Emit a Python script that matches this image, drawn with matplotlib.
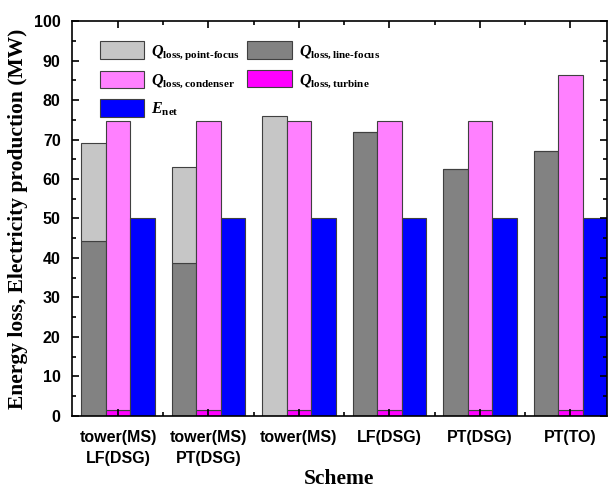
import numpy as np
import matplotlib
matplotlib.use('Agg')
import matplotlib.pyplot as plt
from matplotlib.ticker import MultipleLocator, FixedLocator

plt.rcParams['mathtext.fontset'] = 'custom'
plt.rcParams['mathtext.rm'] = 'Liberation Serif:bold'
plt.rcParams['mathtext.it'] = 'Liberation Serif:italic:bold'
plt.rcParams['mathtext.bf'] = 'Liberation Serif:bold'

# Data (MW)
schemes = ['tower(MS)\nLF(DSG)', 'tower(MS)\nPT(DSG)', 'tower(MS)',
           'LF(DSG)', 'PT(DSG)', 'PT(TO)']
q_line_focus = [44.4, 38.6, 0.0, 72.0, 62.5, 67.1]
q_point_focus = [24.6, 24.5, 75.9, 0.0, 0.0, 0.0]
q_turbine = [1.5, 1.5, 1.5, 1.5, 1.5, 1.5]
q_condenser = [73.3, 73.3, 73.3, 73.3, 73.3, 84.8]
e_net = [50.0, 50.0, 50.0, 50.0, 50.0, 50.0]

C_POINT = '#c6c6c6'
C_LINE = '#828282'
C_COND = '#ff80ff'
C_TURB = '#ff00ff'
C_NET = '#0000ff'
EDGE = '#404040'

fig = plt.figure(figsize=(6.14, 4.91), dpi=100)
ax = fig.add_axes([0.117, 0.153, 0.8716, 0.804])

x = np.arange(1, len(schemes) + 1)
w = 0.27
kw = dict(width=w, edgecolor=EDGE, linewidth=0.8)

b_line = ax.bar(x - w, q_line_focus, color=C_LINE, **kw)
b_point = ax.bar(x - w, q_point_focus, bottom=q_line_focus, color=C_POINT, **kw)
b_turb = ax.bar(x, q_turbine, color=C_TURB, **kw)
b_cond = ax.bar(x, q_condenser, bottom=q_turbine, color=C_COND, **kw)
b_net = ax.bar(x + w, e_net, color=C_NET, **kw)

ax.set_xlim(0.49, 6.405)
ax.set_ylim(0, 100)

ax.yaxis.set_major_locator(MultipleLocator(10))
ax.yaxis.set_minor_locator(MultipleLocator(5))
ax.xaxis.set_major_locator(FixedLocator(x))
ax.xaxis.set_minor_locator(FixedLocator(x[:-1] + 0.5))
ax.set_xticklabels(schemes, linespacing=1.5)

ax.tick_params(which='both', direction='in', top=True, right=True, width=1.2)
ax.tick_params(which='major', length=5)
ax.tick_params(which='minor', length=3)
ax.tick_params(axis='x', which='major', pad=10)
ax.tick_params(axis='y', which='major', pad=8)
for lab in ax.get_xticklabels() + ax.get_yticklabels():
    lab.set_family('Liberation Sans')
    lab.set_fontweight('bold')
    lab.set_fontsize(11.5)

for sp in ax.spines.values():
    sp.set_linewidth(1.2)

ax.set_ylabel('Energy loss, Electricity production (MW)', family='Liberation Serif',
              fontweight='bold', fontsize=15.5, labelpad=4)
ax.set_xlabel('Scheme', family='Liberation Serif', fontweight='bold', fontsize=15.5,
              labelpad=2)

handles = [b_point, b_cond, b_net, b_line, b_turb]
labels = [r'$Q_{\mathrm{loss,point\text{-}focus}}$',
          r'$Q_{\mathrm{loss,condenser}}$',
          r'$E_{\mathrm{net}}$',
          r'$Q_{\mathrm{loss,line\text{-}focus}}$',
          r'$Q_{\mathrm{loss,turbine}}$']
ax.legend(handles, labels, ncol=2, loc='upper left', bbox_to_anchor=(0.025, 0.985),
          frameon=False, prop={'family': 'Liberation Serif', 'size': 11.5},
          handlelength=2.8, handleheight=1.3, labelspacing=0.55,
          columnspacing=0.5, handletextpad=0.4)

fig.savefig('out.png', dpi=100)
